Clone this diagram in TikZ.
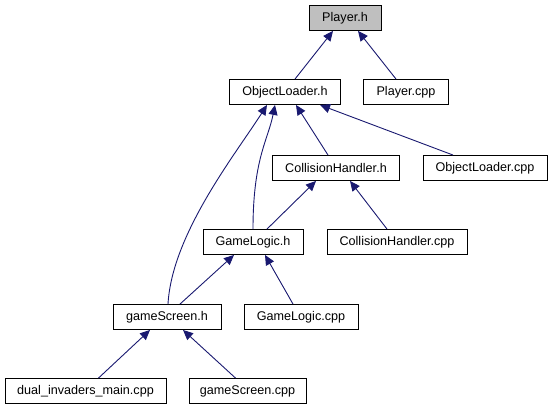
\documentclass[tikz,border=0pt]{standalone}
\usepackage{fontspec}
\setmainfont{Liberation Sans}
\usetikzlibrary{arrows.meta}
\definecolor{edgeblue}{HTML}{191970}
\begin{document}
\begin{tikzpicture}[x=1pt,y=-1pt,
  box/.style={draw=black,line width=0.9pt,fill=white,minimum height=25pt,inner sep=0pt,font=\fontsize{12.6}{14}\selectfont,anchor=center},
  edge/.style={draw=edgeblue,line width=0.9pt,-{Triangle[length=10pt,width=9pt]}}]
\useasboundingbox (0,0) rectangle (553,411);
\node[box,fill=black!25,minimum width=72pt] (ph) at (345,18) {Player.h};
\node[box,minimum width=111pt] (olh) at (285,92) {ObjectLoader.h};
\node[box,minimum width=85pt] (pc) at (406,92) {Player.cpp};
\node[box,minimum width=127pt] (chh) at (336,168) {CollisionHandler.h};
\node[box,minimum width=124pt] (olc) at (485,168) {ObjectLoader.cpp};
\node[box,minimum width=100pt] (glh) at (253,242) {GameLogic.h};
\node[box,minimum width=140pt] (chc) at (397,242) {CollisionHandler.cpp};
\node[box,minimum width=108pt] (gsh) at (167,317) {gameScreen.h};
\node[box,minimum width=114pt] (glc) at (301,317) {GameLogic.cpp};
\node[box,minimum width=161pt] (dim) at (85.5,391) {dual\_invaders\_main.cpp};
\node[box,minimum width=117pt] (gsc) at (247.5,391) {gameScreen.cpp};

\draw[edge] ([xshift=10pt]olh.north) -- ([xshift=-12pt]ph.south);
\draw[edge] ([xshift=-10pt]pc.north) -- ([xshift=13pt]ph.south);
\draw[edge] ([xshift=-8pt]chh.north) -- ([xshift=11pt]olh.south);
\draw[edge] ([xshift=-32pt]olc.north) -- ([xshift=35pt]olh.south);
\draw[edge] (glh.north) .. controls ([yshift=70pt]glh.north) and ([xshift=-17pt,yshift=-35pt]olh.south) .. ([xshift=-10pt]olh.south);
\draw[edge] ([xshift=1pt]gsh.north) .. controls ([xshift=5pt,yshift=70pt]gsh.north) and ([xshift=-50pt,yshift=-50pt]olh.south) .. ([xshift=-18pt]olh.south);
\draw[edge] ([xshift=14pt]glh.north) -- ([xshift=-20pt]chh.south);
\draw[edge] ([xshift=-10pt]chc.north) -- ([xshift=14pt]chh.south);
\draw[edge] ([xshift=13pt]gsh.north) -- ([xshift=-19pt]glh.south);
\draw[edge] ([xshift=-8pt]glc.north) -- ([xshift=12pt]glh.south);
\draw[edge] ([xshift=13pt]dim.north) -- ([xshift=-17pt]gsh.south);
\draw[edge] ([xshift=-12pt]gsc.north) -- ([xshift=16pt]gsh.south);
\end{tikzpicture}
\end{document}
